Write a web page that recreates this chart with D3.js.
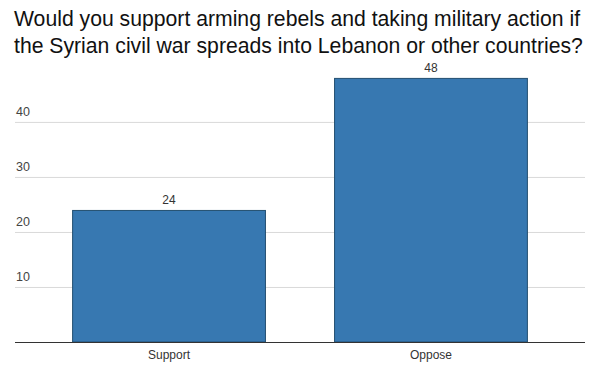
<!DOCTYPE html>
<html>
<head>
<meta charset="utf-8">
<script src="https://cdn.jsdelivr.net/npm/d3@7"></script>
<style>
  body { margin: 0; background: #fff; }
  svg { display: block; font-family: "Liberation Sans", Arial, Helvetica, sans-serif; }
</style>
</head>
<body>
<svg width="603" height="370"></svg>
<script>
let titleLines = [
    "Would you support arming rebels and taking military action if",
    "the Syrian civil war spreads into Lebanon or other countries?"
];
let categories = ["Support", "Oppose"];
let values = [24, 48];
let yTicks = [10, 20, 30, 40];

function draw() {
    let svg = d3.select("svg");
    let left = 15, right = 585, top = 68, bottom = 342;

    // title
    svg.append("g")
        .selectAll("text")
        .data(titleLines)
        .join("text")
        .attr("x", 14)
        .attr("y", (d, i) => 26 + i * 27)
        .attr("font-size", 21.2)
        .attr("fill", "#111")
        .text(d => d);

    let x = d3.scaleBand()
        .domain(categories)
        .range([left, right])
        .paddingInner(0.26)
        .paddingOuter(0.218);

    let y = d3.scaleLinear()
        .domain([0, 49.8])
        .range([bottom, top]);

    // gridlines
    svg.append("g")
        .attr("transform", `translate(${left},0)`)
        .call(d3.axisLeft(y)
            .tickValues(yTicks)
            .tickSize(-(right - left))
            .tickFormat(""))
        .call(g => g.select(".domain").remove())
        .call(g => g.selectAll("line").attr("stroke", "#d9d9d9"));

    // y labels sit above the gridlines
    svg.append("g")
        .selectAll("text")
        .data(yTicks)
        .join("text")
        .attr("x", 16)
        .attr("y", d => y(d) - 6)
        .attr("font-size", 12.5)
        .attr("fill", "#444")
        .text(d => d);

    // bars
    svg.append("g")
        .selectAll("rect")
        .data(values)
        .join("rect")
        .attr("x", (d, i) => x(categories[i]) + 0.5)
        .attr("y", d => y(d) + 0.5)
        .attr("width", x.bandwidth() - 1)
        .attr("height", d => y(0) - y(d) - 0.5)
        .attr("fill", "#3778b1")
        .attr("stroke", "#234f70")
        .attr("stroke-width", 1);

    // value labels
    svg.append("g")
        .selectAll("text")
        .data(values)
        .join("text")
        .attr("x", (d, i) => x(categories[i]) + x.bandwidth() / 2)
        .attr("y", d => y(d) - 6)
        .attr("text-anchor", "middle")
        .attr("font-size", 12)
        .attr("fill", "#333")
        .text(d => d);

    // baseline + category labels
    svg.append("g")
        .attr("transform", `translate(0,${bottom})`)
        .call(d3.axisBottom(x).tickSize(0).tickPadding(8))
        .call(g => g.select(".domain")
            .attr("d", `M${left},0.5H${right}`)
            .attr("stroke", "#333")
            .attr("stroke-width", 1.2))
        .call(g => g.selectAll("text")
            .attr("font-size", 12)
            .attr("font-family", "Liberation Sans, Arial, sans-serif")
            .attr("fill", "#333"));
}

draw();
</script>
</body>
</html>
